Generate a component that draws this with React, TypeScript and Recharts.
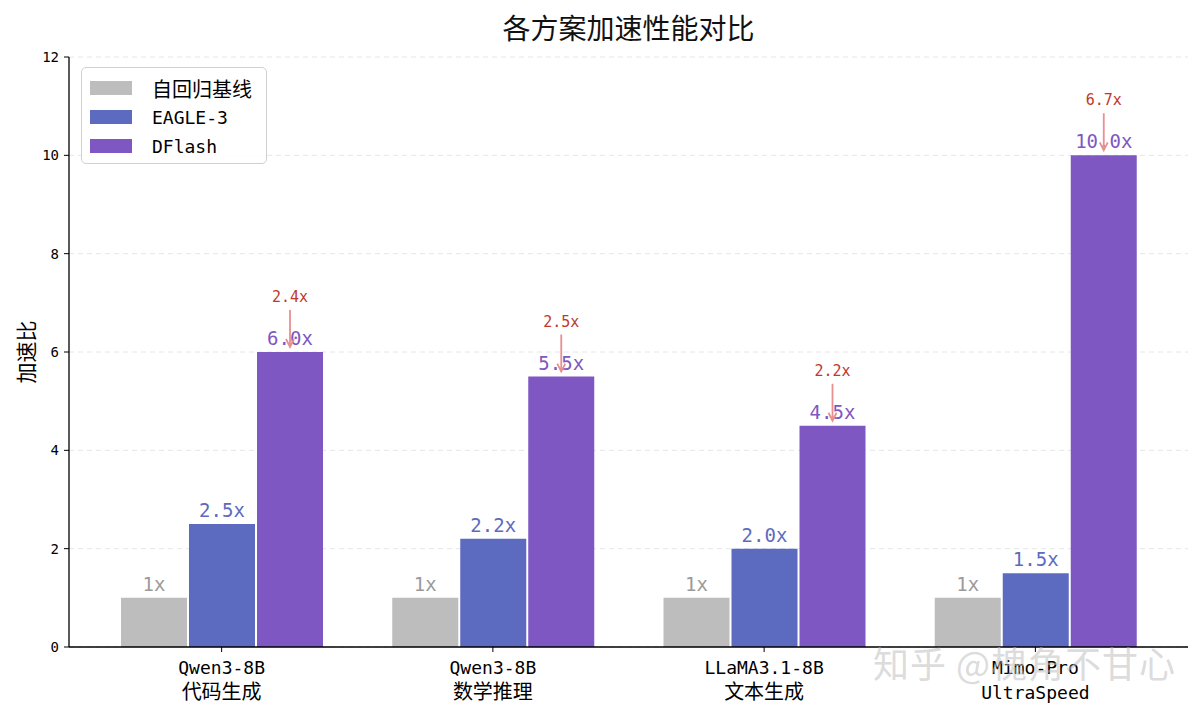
import { BarChart, Bar, XAxis, YAxis, CartesianGrid, LabelList } from 'recharts';

const categories = ['Qwen3-8B\n代码生成', 'Qwen3-8B\n数学推理', 'LLaMA3.1-8B\n文本生成', 'Mimo-Pro\nUltraSpeed'];
const baseline = [1, 1, 1, 1];
const eagle3 = [2.5, 2.2, 2.0, 1.5];
const dflash = [6.0, 5.5, 4.5, 10.0];
const gainLabels = ['2.4x', '2.5x', '2.2x', '6.7x'];
const yTicks = [0, 2, 4, 6, 8, 10, 12];

const seriesNames = ['自回归基线', 'EAGLE-3', 'DFlash'];
const seriesColors = ['#bdbdbd', '#5c6bc0', '#7e57c2'];
const labelColors = ['#9a9a9a', '#5c6bc0', '#7e57c2'];

const MONO = "'DejaVu Sans Mono', 'Noto Sans CJK SC', monospace";
const CJK = "'Noto Sans CJK SC', 'DejaVu Sans Mono', sans-serif";
const hasCjk = (s: string) => /[\u4e00-\u9fff]/.test(s);

const data = categories.map((name, i) => ({
  name,
  baseline: baseline[i],
  eagle3: eagle3[i],
  dflash: dflash[i],
}));

function XTick(props: any) {
  const { x, y, payload } = props;
  const lines = String(payload.value).split('\n');
  return (
    <g transform={`translate(${x},${y})`}>
      {lines.map((line, i) => (
        <text
          key={i}
          x={0}
          y={20 + i * 25}
          textAnchor="middle"
          fill="#000"
          fontSize={hasCjk(line) ? 20 : 18}
          fontFamily={hasCjk(line) ? CJK : MONO}
        >
          {line}
        </text>
      ))}
    </g>
  );
}

// value label above a bar, e.g. "2.5x"
const valueLabel = (color: string, fmt: (v: number) => string) => (props: any) => {
  const { x, y, width, value } = props;
  return (
    <text x={x + width / 2} y={y - 7} textAnchor="middle" fill={color} fontSize={19} fontFamily={MONO}>
      {fmt(value)}
    </text>
  );
};

// DFlash label plus red gain note and arrow
function DflashLabel(props: any) {
  const { x, y, width, value, index } = props;
  const cx = x + width / 2;
  const tail = y - 42;
  const head = y - 5;
  return (
    <g>
      <text x={cx} y={y - 7} textAnchor="middle" fill={labelColors[2]} fontSize={19} fontFamily={MONO}>
        {value.toFixed(1)}x
      </text>
      <text x={cx} y={y - 50} textAnchor="middle" fill="#c0392b" fontSize={15} fontFamily={MONO}>
        {gainLabels[index]}
      </text>
      <path
        d={`M${cx},${tail} L${cx},${head} M${cx - 4},${head - 8} L${cx},${head} L${cx + 4},${head - 8}`}
        stroke="#e8908f"
        strokeWidth={1.8}
        fill="none"
      />
    </g>
  );
}

function LegendBox() {
  return (
    <div
      style={{
        position: 'absolute',
        left: 81,
        top: 67,
        width: 184,
        height: 95,
        border: '1px solid #d0d0d0',
        borderRadius: 5,
        background: 'rgba(255,255,255,0.85)',
      }}
    >
      {seriesNames.map((name, i) => (
        <div key={name} style={{ position: 'absolute', left: 8, top: 13 + i * 29, height: 14, display: 'flex', alignItems: 'center' }}>
          <div style={{ width: 42, height: 14, background: seriesColors[i] }} />
          <span
            style={{
              marginLeft: 20,
              fontSize: hasCjk(name) ? 20 : 18,
              fontFamily: hasCjk(name) ? CJK : MONO,
              color: '#000',
              whiteSpace: 'nowrap',
            }}
          >
            {name}
          </span>
        </div>
      ))}
    </div>
  );
}

export default function App() {
  return (
    <div style={{ position: 'absolute', left: 0, top: 0, width: 1200, height: 714, background: '#fff' }}>
      <div
        style={{
          position: 'absolute',
          left: 69,
          width: 1119,
          top: 7,
          height: 40,
          lineHeight: '40px',
          textAlign: 'center',
          fontSize: 28,
          fontFamily: CJK,
          fontWeight: 400,
          color: '#111',
        }}
      >
        各方案加速性能对比
      </div>
      <div
        style={{
          position: 'absolute',
          left: 25,
          top: 352,
          transform: 'translate(-50%, -50%) rotate(-90deg)',
          fontSize: 21,
          fontFamily: CJK,
          whiteSpace: 'nowrap',
          color: '#000',
        }}
      >
        加速比
      </div>
      <BarChart
        width={1200}
        height={714}
        data={data}
        margin={{ top: 57, right: 12, bottom: 0, left: 0 }}
        barGap={2}
        barSize={66}
      >
        <CartesianGrid horizontal vertical={false} stroke="#e6e6e6" strokeDasharray="5 4" />
        <XAxis
          dataKey="name"
          interval={0}
          padding={{ left: 17, right: 17 }}
          tick={<XTick />}
          tickSize={5}
          tickMargin={2}
          axisLine={{ stroke: '#000', strokeWidth: 1.3 }}
          tickLine={{ stroke: '#000' }}
          height={67}
        />
        <YAxis
          domain={[0, 12]}
          ticks={yTicks}
          width={69}
          tickSize={5}
          tickMargin={5}
          tick={{ fill: '#000', fontSize: 14, fontFamily: MONO }}
          axisLine={{ stroke: '#000', strokeWidth: 1.3 }}
          tickLine={{ stroke: '#000' }}
        />
        <Bar dataKey="baseline" name={seriesNames[0]} fill={seriesColors[0]} isAnimationActive={false}>
          <LabelList dataKey="baseline" content={valueLabel(labelColors[0], (v) => `${v}x`)} />
        </Bar>
        <Bar dataKey="eagle3" name={seriesNames[1]} fill={seriesColors[1]} isAnimationActive={false}>
          <LabelList dataKey="eagle3" content={valueLabel(labelColors[1], (v) => `${v.toFixed(1)}x`)} />
        </Bar>
        <Bar dataKey="dflash" name={seriesNames[2]} fill={seriesColors[2]} isAnimationActive={false}>
          <LabelList dataKey="dflash" content={<DflashLabel />} />
        </Bar>
      </BarChart>
      <LegendBox />
      <div
        style={{
          position: 'absolute',
          left: 873,
          top: 636,
          fontSize: 36,
          fontFamily: CJK,
          color: 'rgba(190,190,190,0.55)',
          whiteSpace: 'nowrap',
          pointerEvents: 'none',
          letterSpacing: 1,
        }}
      >
        知乎 @槐角不甘心
      </div>
    </div>
  );
}
